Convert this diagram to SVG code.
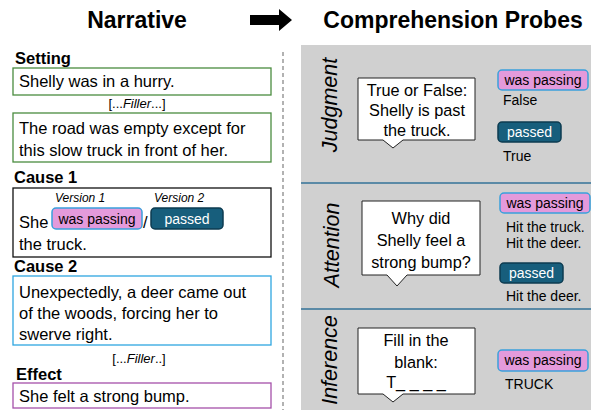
<svg xmlns="http://www.w3.org/2000/svg" width="591" height="410" viewBox="0 0 591 410">
<style>
text{font-family:"Liberation Sans",Arial,sans-serif;fill:#000}
.title{font-size:23px;font-weight:bold}
.lbl{font-size:16.5px;font-weight:bold}
.body{font-size:16.5px}
.small{font-size:13px}
.ver{font-size:12px;font-style:italic}
.probe{font-size:16.3px}
.side{font-size:21.5px;font-style:italic}
.ans{font-size:14px}
.pink{fill:#e49adb;stroke:#3aa0dc;stroke-width:1.5}
.teal{fill:#175e7c;stroke:#0d3b50;stroke-width:1.5}
.pt{font-size:14px}
.wt{font-size:14px;fill:#fff}
.callout{fill:#fff;stroke:#222;stroke-width:1}
.sep{stroke:#5b8aa6;stroke-width:2}
</style>
<rect x="0" y="0" width="591" height="410" fill="#fff"/>
<text class="title" x="137" y="28" text-anchor="middle">Narrative</text>
<text class="title" x="453" y="28" text-anchor="middle">Comprehension Probes</text>
<g id="arrow"><polygon points="250,15 279,15 279,9 292,20 279,31 279,25 250,25" fill="#000"/></g>
<line x1="283" y1="52" x2="283" y2="410" stroke="#999" stroke-width="1.5" stroke-dasharray="4,3"/>
<rect x="301" y="45" width="290" height="365" fill="#d0d0d0"/>
<line class="sep" x1="301" y1="183" x2="591" y2="183"/>
<line class="sep" x1="301" y1="309" x2="591" y2="309"/>

<g id="setting">
<text class="lbl" x="15" y="64">Setting</text>
<rect x="13" y="68" width="258" height="27" fill="#fff" stroke="#4a8c3f" stroke-width="1.3"/>
<text class="body" x="19" y="87">Shelly was in a hurry.</text>
</g>
<text class="small" x="137" y="108" text-anchor="middle">[...<tspan font-style="italic">Filler</tspan>...]</text>
<g id="setting2">
<rect x="13" y="113" width="258" height="49" fill="#fff" stroke="#4a8c3f" stroke-width="1.3"/>
<text class="body" x="19" y="134">The road was empty except for</text>
<text class="body" x="19" y="156">this slow truck in front of her.</text>
</g>
<g id="cause1">
<text class="lbl" x="14" y="183">Cause 1</text>
<rect x="13" y="188" width="258" height="69" fill="#fff" stroke="#111" stroke-width="1.3"/>
<text class="ver" x="55" y="202">Version 1</text>
<text class="ver" x="154" y="202">Version 2</text>
<text class="body" x="19" y="228">She</text>
<rect class="pink" x="52" y="208" width="90" height="21" rx="4"/>
<text class="pt" x="97" y="223.5" text-anchor="middle">was passing</text>
<text class="body" x="143" y="228">/</text>
<rect class="teal" x="151" y="208" width="72" height="21" rx="4"/>
<text class="wt" x="187" y="223.5" text-anchor="middle">passed</text>
<text class="body" x="19" y="250">the truck.</text>
</g>
<g id="cause2">
<text class="lbl" x="14" y="272">Cause 2</text>
<rect x="13" y="276" width="258" height="69" fill="#fff" stroke="#2fa6e0" stroke-width="1.3"/>
<text class="body" x="19" y="298">Unexpectedly, a deer came out</text>
<text class="body" x="19" y="319">of the woods, forcing her to</text>
<text class="body" x="19" y="340">swerve right.</text>
</g>
<text class="small" x="139" y="363" text-anchor="middle">[...<tspan font-style="italic">Filler</tspan>..]</text>
<g id="effect">
<text class="lbl" x="16" y="380">Effect</text>
<rect x="13" y="383" width="258" height="25" fill="#fff" stroke="#a550aa" stroke-width="1.3"/>
<text class="body" x="19" y="402">She felt a strong bump.</text>
</g>

<g id="judgment">
<text class="side" transform="translate(337,105) rotate(-90)" text-anchor="middle">Judgment</text>
<path class="callout" d="M358,78 H475 V140 H403 L393,148 L383,140 H358 Z"/>
<text class="probe" x="417" y="96" text-anchor="middle">True or False:</text>
<text class="probe" x="417" y="116" text-anchor="middle">Shelly is past</text>
<text class="probe" x="417" y="136" text-anchor="middle">the truck.</text>
<rect class="pink" x="498" y="70" width="90" height="20" rx="4"/>
<text class="pt" x="543" y="85" text-anchor="middle">was passing</text>
<text class="ans" x="503" y="105">False</text>
<rect class="teal" x="498" y="122" width="63" height="20" rx="4"/>
<text class="wt" x="529.5" y="137" text-anchor="middle">passed</text>
<text class="ans" x="503" y="161">True</text>
</g>
<g id="attention">
<text class="side" transform="translate(339,245) rotate(-90)" text-anchor="middle">Attention</text>
<path class="callout" d="M362,201 H480 V275 H407 L397,286 L387,275 H362 Z"/>
<text class="probe" x="421" y="224" text-anchor="middle">Why did</text>
<text class="probe" x="421" y="246" text-anchor="middle">Shelly feel a</text>
<text class="probe" x="421" y="268" text-anchor="middle">strong bump?</text>
<rect class="pink" x="500" y="193" width="90" height="20" rx="4"/>
<text class="pt" x="545" y="208" text-anchor="middle">was passing</text>
<text class="ans" x="506" y="232">Hit the truck.</text>
<text class="ans" x="506" y="248">Hit the deer.</text>
<rect class="teal" x="500" y="263" width="63" height="20" rx="4"/>
<text class="wt" x="531.5" y="278" text-anchor="middle">passed</text>
<text class="ans" x="506" y="301">Hit the deer.</text>
</g>
<g id="inference">
<text class="side" transform="translate(337,360) rotate(-90)" text-anchor="middle">Inference</text>
<path class="callout" d="M358,328 H475 V394 H403 L393,402 L383,394 H358 Z"/>
<text class="probe" x="416" y="346" text-anchor="middle">Fill in the</text>
<text class="probe" x="416" y="368" text-anchor="middle">blank:</text>
<text class="probe" x="416" y="388" text-anchor="middle">T_ _ _ _</text>
<rect class="pink" x="498" y="350" width="90" height="21" rx="4"/>
<text class="pt" x="543" y="365" text-anchor="middle">was passing</text>
<text class="ans" x="505" y="389">TRUCK</text>
</g>
</svg>
